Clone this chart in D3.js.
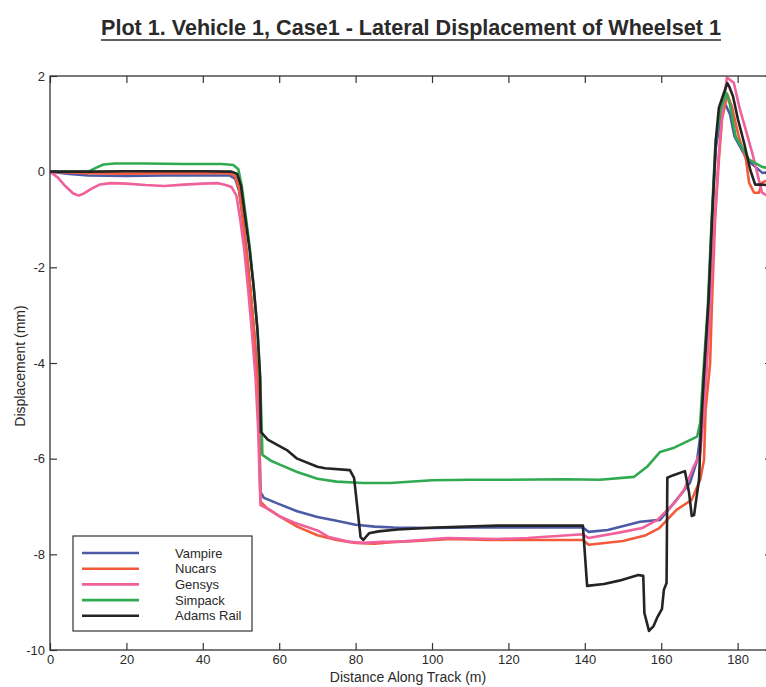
<!DOCTYPE html>
<html>
<head>
<meta charset="utf-8">
<script src="https://cdn.jsdelivr.net/npm/d3@7"></script>
<style>
  body { margin: 0; background: #fff; }
  text { font-family: "Liberation Sans", Arial, sans-serif; fill: #2a2a2a; }
</style>
</head>
<body>
<svg></svg>
<script>
// series: [distance (m), displacement (mm)]
let vampire = [
  [0, 0], [5, -0.05], [10, -0.08], [20, -0.09], [30, -0.08], [40, -0.08], [47, -0.08],
  [48.5, -0.15], [49.5, -0.4], [50.5, -1.0], [51.5, -1.7], [52.5, -2.5], [53.5, -3.4],
  [54.3, -4.3], [54.8, -5.6], [55.1, -6.7], [56, -6.82], [60, -6.95], [64.7, -7.1],
  [70, -7.22], [75, -7.3], [80, -7.38], [85, -7.42], [90, -7.44], [100, -7.45],
  [110, -7.44], [120, -7.44], [130, -7.44], [139.5, -7.44], [141, -7.53], [146, -7.49],
  [154.5, -7.32], [159.7, -7.28], [164, -6.86], [167.5, -6.51], [169.4, -6.03],
  [170.2, -5.54], [171.2, -4.35], [172.4, -2.7], [173.3, -1.0], [174.3, 0.5],
  [175.5, 1.1], [176.6, 1.44], [178, 1.2], [179.2, 0.73], [182.5, 0.25], [186.4, -0.02],
  [190, -0.05]
];
let nucars = [
  [0, 0], [10, -0.03], [20, -0.04], [30, -0.03], [40, -0.03], [47, -0.03], [48.5, -0.1],
  [49.5, -0.35], [50.5, -1.0], [51.5, -1.7], [52.5, -2.5], [53.5, -3.4], [54.3, -4.3],
  [54.8, -5.6], [55.1, -6.9], [57, -7.05], [60, -7.2], [64.7, -7.42], [70, -7.6],
  [75, -7.7], [80, -7.76], [85, -7.78], [90, -7.74], [96, -7.72], [105, -7.68],
  [115, -7.7], [125, -7.7], [139.5, -7.7], [141, -7.8], [150, -7.72], [156, -7.6],
  [159.5, -7.45], [164, -7.07], [168, -6.86], [170.2, -6.44], [171.2, -6.03],
  [171.6, -5.0], [172.8, -4.0], [173.3, -2.7], [174.1, -1.0], [175.1, 0.25],
  [175.9, 1.09], [177.3, 1.62], [178.5, 1.36], [180.3, 0.73], [182.2, 0.25],
  [183, -0.23], [184.3, -0.44], [185.6, -0.44], [186.4, -0.23], [190, -0.1]
];
let gensys = [
  [0, 0], [2, -0.12], [4, -0.3], [6, -0.45], [7.5, -0.5], [9, -0.45], [11, -0.35],
  [13, -0.27], [16, -0.24], [20, -0.25], [25, -0.28], [30, -0.3], [35, -0.27],
  [40, -0.25], [44, -0.24], [46, -0.28], [47.5, -0.32], [48.8, -0.5], [49.8, -1.0],
  [50.8, -1.6], [51.8, -2.4], [52.8, -3.3], [53.8, -4.3], [54.5, -5.4], [54.9, -6.5],
  [55.1, -6.97], [57.6, -7.07], [60, -7.2], [64, -7.34], [70, -7.5], [73, -7.64],
  [78.5, -7.74], [82, -7.76], [87, -7.74], [91, -7.74], [104, -7.66], [117, -7.68],
  [125, -7.66], [139.5, -7.58], [141, -7.66], [150, -7.53], [155, -7.45], [159, -7.28],
  [163.4, -6.93], [166, -6.65], [168.5, -6.17], [170.2, -5.88], [171.2, -5.04],
  [172, -4.0], [173, -2.6], [174, -1.0], [175, 0.3], [176, 1.2], [177.2, 1.97],
  [179, 1.86], [180.6, 1.3], [181.9, 0.94], [183.8, 0.4], [185.1, -0.02],
  [186.4, -0.44], [190, -0.6]
];
let simpack = [
  [0, 0], [10, 0.0], [12, 0.08], [14, 0.15], [17, 0.17], [25, 0.17], [35, 0.16],
  [45, 0.16], [48, 0.14], [49.3, 0.05], [50.2, -0.3], [51.2, -0.9], [52.3, -1.6],
  [53.3, -2.4], [54.3, -3.3], [55, -4.3], [55.4, -5.3], [55.6, -5.92], [58, -6.05],
  [60, -6.12], [64.7, -6.28], [70, -6.42], [75, -6.48], [82, -6.51], [89, -6.51],
  [100, -6.45], [110, -6.44], [120, -6.44], [135, -6.43], [144, -6.44], [152.9, -6.38],
  [156.3, -6.17], [159.7, -5.86], [163.4, -5.77], [166, -5.67], [169.4, -5.54],
  [170.2, -5.25], [170.9, -4.35], [172.2, -2.8], [173.2, -1.0], [174.2, 0.6],
  [175.5, 1.3], [177, 1.65], [178, 1.4], [179.5, 0.73], [183, 0.25], [186.4, 0.1],
  [190, 0.05]
];
let adamsRail = [
  [0, 0], [10, 0.0], [20, 0.01], [30, 0.01], [40, 0.01], [47.5, 0.0], [49, -0.05],
  [50, -0.3], [51, -0.9], [52.2, -1.6], [53.3, -2.4], [54.3, -3.3], [55, -4.3],
  [55.2, -5.44], [57, -5.6], [62, -5.82], [64.7, -6.0], [70, -6.17], [72, -6.2],
  [78.5, -6.24], [79.6, -6.4], [81.3, -7.64], [82, -7.7], [83.5, -7.56], [86, -7.52],
  [91, -7.48], [101, -7.44], [117, -7.4], [139.5, -7.4], [140.6, -8.66], [145, -8.62],
  [149, -8.55], [154, -8.43], [155.3, -8.45], [155.6, -9.23], [156.8, -9.6], [158, -9.5],
  [158.9, -9.33], [160.2, -9.14], [160.7, -8.74], [161.4, -8.6], [161.6, -6.4],
  [163, -6.35], [166.2, -6.26], [167.3, -6.72], [168, -7.2], [168.6, -7.18],
  [169.4, -6.72], [169.9, -6.44], [170.4, -5.4], [171.1, -4.35], [172.4, -2.68],
  [173.3, -1.0], [174.3, 0.67], [175.1, 1.34], [176.9, 1.76], [177.3, 1.85],
  [177.8, 1.78], [178.8, 1.57], [180.1, 1.09], [181.7, 0.6], [183.3, 0.04],
  [184.6, -0.27], [186.4, -0.27], [190, -0.3]
];

let seriesNames = ["Vampire", "Nucars", "Gensys", "Simpack", "Adams Rail"];
let seriesData = [vampire, nucars, gensys, simpack, adamsRail];
let seriesColors = ["#4d5ba6", "#f25a3a", "#f0609a", "#2faa50", "#242424"];

let xTicks = [0, 20, 40, 60, 80, 100, 120, 140, 160, 180];
let yTicks = [-10, -8, -6, -4, -2, 0, 2];

let width = 766;
let height = 687;
let plotLeft = 50;
let plotRight = 772;
let plotTop = 76;
let plotBottom = 650;
let svg = d3.select("svg").attr("width", width).attr("height", height);

let xScale = d3.scaleLinear().domain([0, 189]).range([plotLeft, plotRight]);
let yScale = d3.scaleLinear().domain([-10, 2]).range([plotBottom, plotTop]);

let drawTitle = () => {
  svg
    .append("text")
    .attr("x", 411)
    .attr("y", 35)
    .attr("text-anchor", "middle")
    .attr("textLength", 620)
    .attr("lengthAdjust", "spacingAndGlyphs")
    .style("font-size", "22px")
    .style("font-weight", "bold")
    .text("Plot 1. Vehicle 1, Case1 - Lateral Displacement of Wheelset 1");
  svg
    .append("line")
    .attr("x1", 101)
    .attr("x2", 721)
    .attr("y1", 40)
    .attr("y2", 40)
    .attr("stroke", "#2a2a2a")
    .attr("stroke-width", 1.6);
};

let drawAxes = () => {
  let tick = 7;
  let fmt = (d) => String(d);
  let styleAxis = (g) => {
    g.select(".domain").remove();
    g.selectAll("line").attr("stroke", "#333").attr("stroke-width", 1.2);
    g.selectAll("text").style("font-size", "13px").attr("fill", "#2a2a2a");
  };
  svg
    .append("g")
    .attr("transform", `translate(0, ${plotBottom})`)
    .call(d3.axisBottom(xScale).tickValues(xTicks).tickSize(-tick).tickPadding(5).tickFormat(fmt))
    .call(styleAxis);
  svg
    .append("g")
    .attr("transform", `translate(0, ${plotTop})`)
    .call(d3.axisTop(xScale).tickValues(xTicks).tickSize(-tick).tickFormat(""))
    .call(styleAxis);
  svg
    .append("g")
    .attr("transform", `translate(${plotLeft}, 0)`)
    .call(d3.axisLeft(yScale).tickValues(yTicks).tickSize(-tick).tickPadding(5).tickFormat(fmt))
    .call(styleAxis);
  svg
    .append("g")
    .attr("transform", `translate(${plotRight}, 0)`)
    .call(d3.axisRight(yScale).tickValues(yTicks).tickSize(-tick).tickFormat(""))
    .call(styleAxis);

  svg
    .append("rect")
    .attr("x", plotLeft)
    .attr("y", plotTop)
    .attr("width", plotRight - plotLeft)
    .attr("height", plotBottom - plotTop)
    .attr("fill", "none")
    .attr("stroke", "#333")
    .attr("stroke-width", 1.3);

  svg
    .append("text")
    .attr("x", 408)
    .attr("y", 682)
    .attr("text-anchor", "middle")
    .style("font-size", "14px")
    .text("Distance Along Track (m)");
  svg
    .append("text")
    .attr("transform", "translate(25, 366) rotate(-90)")
    .attr("text-anchor", "middle")
    .style("font-size", "14px")
    .text("Displacement (mm)");
};

let drawLines = () => {
  let line = d3
    .line()
    .x((d) => xScale(d[0]))
    .y((d) => yScale(d[1]));
  svg
    .append("g")
    .selectAll("path")
    .data(seriesData)
    .enter()
    .append("path")
    .attr("d", (d) => line(d))
    .attr("fill", "none")
    .attr("stroke", (d, i) => seriesColors[i])
    .attr("stroke-width", 2.6)
    .attr("stroke-linejoin", "round");
};

let drawLegend = () => {
  let g = svg.append("g").attr("transform", "translate(73, 536)");
  g.append("rect")
    .attr("width", 179)
    .attr("height", 95)
    .attr("fill", "#fff")
    .attr("stroke", "#333")
    .attr("stroke-width", 1.2);
  let rows = g
    .selectAll("g")
    .data(seriesNames)
    .enter()
    .append("g")
    .attr("transform", (d, i) => `translate(0, ${17 + i * 15.7})`);
  rows
    .append("line")
    .attr("x1", 9)
    .attr("x2", 66)
    .attr("stroke", (d, i) => seriesColors[i])
    .attr("stroke-width", 2.6);
  rows
    .append("text")
    .attr("x", 102)
    .attr("y", 4.5)
    .style("font-size", "13px")
    .text((d) => d);
};

drawTitle();
drawLines();
drawAxes();
drawLegend();
</script>
</body>
</html>
